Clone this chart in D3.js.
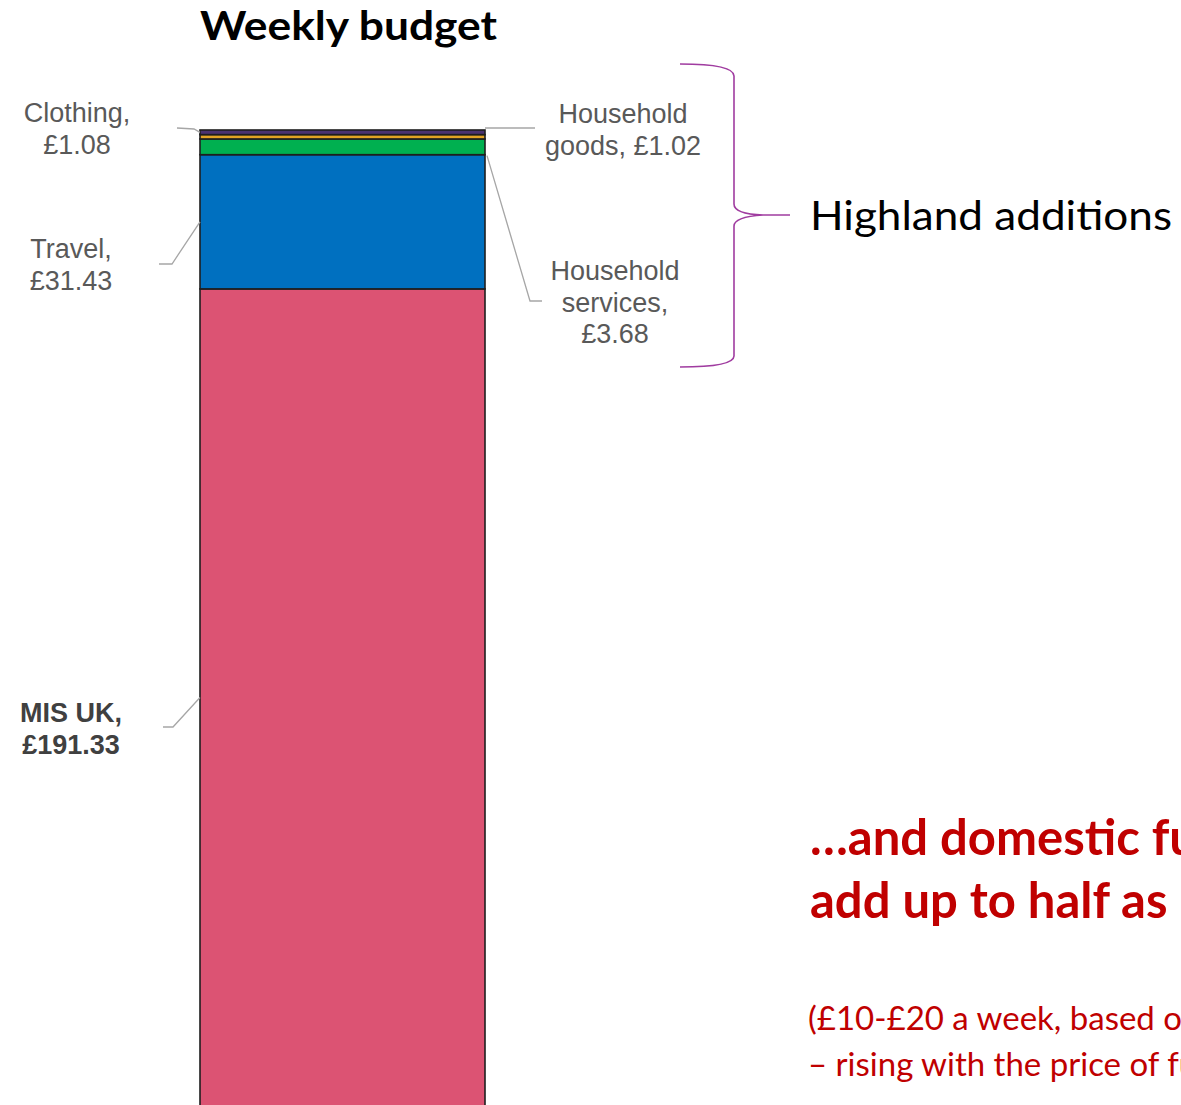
<!DOCTYPE html>
<html>
<head>
<meta charset="utf-8">
<script src="https://cdn.jsdelivr.net/npm/d3@7"></script>
<style>
  body { margin: 0; background: #fff; overflow: hidden; }
  svg { display: block; }
</style>
</head>
<body>
<svg id="chart" width="1181" height="1105"></svg>
<script>
// 数据 (bottom → top of the stack)
const categories = ["MIS UK", "Travel", "Household services", "Household goods", "Clothing"];
const values = [191.33, 31.43, 3.68, 1.02, 1.08];
const colors = ["#dc5373", "#0070c0", "#00b050", "#e2a424", "#4a3270"];
// where each label wraps (index of the word after which a line break goes)
const labelBreaks = [[1], [0], [0, 1], [0], [0]];

const titleText = "Weekly budget";
const braceText = "Highland additions";
const noteTitle = ["…and domestic fuel costs", "add up to half as much again"];
const noteSub = ["(£10-£20 a week, based on usage", "– rising with the price of fuel)"];

// 参数设定
const W = 1181, H = 1105;
const barLeft = 200, barRight = 485;
const barTop = 130, barBottom = 1106;
const labelFont = "'Liberation Sans', Arial, sans-serif";
const slideFont = "Lato, 'Open Sans', sans-serif";
const red = "#c00000";

const svg = d3.select("#chart");

const total = d3.sum(values);
const y = d3.scaleLinear().domain([0, total]).range([barBottom, barTop]);
const x = d3.scaleBand().domain(["budget"]).range([barLeft, barRight]).padding(0);

// stacked segments
let acc = 0;
const segs = categories.map((c, i) => {
  const s = { name: c, value: values[i], color: colors[i], i: i, v0: acc, v1: acc + values[i] };
  acc += values[i];
  return s;
});

svg.append("g").selectAll("rect")
  .data(segs)
  .enter().append("rect")
  .attr("x", x("budget"))
  .attr("width", x.bandwidth())
  .attr("y", d => y(d.v1))
  .attr("height", d => y(d.v0) - y(d.v1))
  .style("fill", d => d.color)
  .style("stroke", "#1e1e1e")
  .style("stroke-width", 1.6);

// label text lines
function labelLines(d) {
  const words = (d.name + ", £" + d.value.toFixed(2)).split(" ");
  const br = labelBreaks[d.i];
  const lines = [];
  let cur = [];
  words.forEach((w, k) => {
    cur.push(w);
    if (br.includes(k)) { lines.push(cur.join(" ")); cur = []; }
  });
  if (cur.length) lines.push(cur.join(" "));
  return lines;
}

// label layout (annotation placement)
const layout = {
  "MIS UK":             { x: 71,  y: 722, bold: true,
                          leader: d => [[163, 727], [173, 727], [barLeft, y((d.v0 + d.v1) / 2)]] },
  "Travel":             { x: 71,  y: 258,
                          leader: d => [[159, 264], [172, 264], [barLeft, y((d.v0 + d.v1) / 2)]] },
  "Household services": { x: 615, y: 280,
                          leader: d => [[barRight + 2, y(d.v0) + 1], [530, 301], [542, 301]] },
  "Household goods":    { x: 623, y: 123,
                          leader: d => [[barRight, y(total) - 2], [535, y(total) - 2]] },
  "Clothing":           { x: 77,  y: 122,
                          leader: d => [[177, 128], [194, 129], [barLeft, y((d.v0 + d.v1) / 2)]] }
};

const line = d3.line();
const gLab = svg.append("g");

segs.forEach(d => {
  const L = layout[d.name];
  gLab.append("path")
    .attr("d", line(L.leader(d)))
    .style("fill", "none")
    .style("stroke", "#a6a6a6")
    .style("stroke-width", 1.3);

  const t = gLab.append("text")
    .attr("x", L.x)
    .attr("y", L.y)
    .attr("text-anchor", "middle")
    .style("font-family", labelFont)
    .style("font-size", "27px")
    .style("font-weight", L.bold ? "bold" : "normal")
    .style("fill", L.bold ? "#404040" : "#595959");
  labelLines(d).forEach((s, k) => {
    t.append("tspan").attr("x", L.x).attr("dy", k === 0 ? 0 : 31.5).text(s);
  });
});

// title
svg.append("text")
  .attr("x", 200)
  .attr("y", 40)
  .attr("textLength", 297)
  .attr("lengthAdjust", "spacingAndGlyphs")
  .style("font-family", slideFont)
  .style("font-weight", "bold")
  .style("font-size", "41px")
  .style("fill", "#000")
  .text(titleText);

// brace for the Highland additions
svg.append("path")
  .attr("d", "M680,64 Q734,64 734,76 L734,204 Q734,214 763,215 L790,215 M763,215 Q734,217 734,226 L734,356 Q734,367 680,367")
  .style("fill", "none")
  .style("stroke", "#a03ca0")
  .style("stroke-width", 1.6);

svg.append("text")
  .attr("x", 810)
  .attr("y", 230)
  .attr("textLength", 362)
  .attr("lengthAdjust", "spacingAndGlyphs")
  .style("font-family", slideFont)
  .style("font-size", "41px")
  .style("fill", "#000")
  .text(braceText);

// red note (runs past the right edge, as on the slide)
const nt = svg.append("text")
  .attr("x", 810).attr("y", 855)
  .style("font-family", slideFont)
  .style("font-weight", "bold")
  .style("font-size", "49px")
  .style("fill", red);
noteTitle.forEach((s, k) => nt.append("tspan").attr("x", 810).attr("dy", k ? 63 : 0).text(s));

const ns = svg.append("text")
  .attr("x", 810).attr("y", 1030)
  .style("font-family", slideFont)
  .style("font-size", "33px")
  .style("fill", red);
noteSub.forEach((s, k) => ns.append("tspan").attr("x", 808).attr("dy", k ? 46 : 0).text(s));
</script>
</body>
</html>
